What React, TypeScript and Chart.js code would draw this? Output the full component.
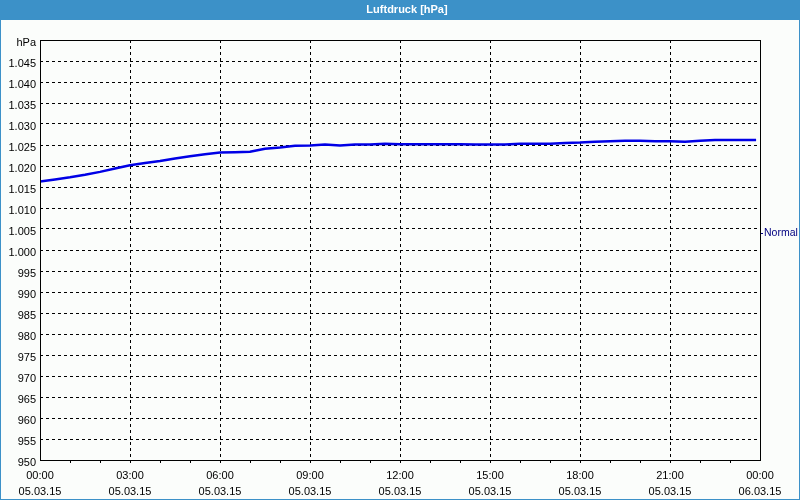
import React, { useEffect, useRef } from "react";
import { Chart, registerables } from "chart.js";

Chart.register(...registerables);

const TITLE = "Luftdruck [hPa]";
const SERIES_LABEL = "Normal";
const DATE_START = "05.03.15";
const DATE_END = "06.03.15";

// hours since 00:00 on 05.03.15
const hours = [
  0, 0.5, 1, 1.5, 2, 2.5, 3, 3.5, 4, 4.5, 5, 5.5, 6, 6.5, 7, 7.5, 8, 8.5, 9, 9.5,
  10, 10.5, 11, 11.5, 12, 12.5, 13, 13.5, 14, 14.5, 15, 15.5, 16, 16.5, 17, 17.5,
  18, 18.5, 19, 19.5, 20, 20.5, 21, 21.5, 22, 22.5, 23, 23.5, 23.87,
];
// air pressure in hPa
const pressure = [
  1016.3, 1016.8, 1017.3, 1017.9, 1018.6, 1019.4, 1020.2, 1020.7, 1021.2, 1021.8,
  1022.3, 1022.8, 1023.2, 1023.3, 1023.4, 1024.1, 1024.4, 1024.8, 1024.9, 1025.1,
  1024.9, 1025.1, 1025.1, 1025.3, 1025.2, 1025.2, 1025.2, 1025.2, 1025.2, 1025.1,
  1025.1, 1025.1, 1025.3, 1025.3, 1025.3, 1025.5, 1025.6, 1025.8, 1025.9, 1026.0,
  1026.0, 1025.9, 1025.9, 1025.8, 1026.0, 1026.2, 1026.2, 1026.2, 1026.2,
];

const Y_MIN = 950;
const Y_MAX = 1050;
const Y_STEP = 5;
const X_MIN = 0;
const X_MAX = 24;
const X_STEP = 3;

const FONT = "'Liberation Sans', Arial, sans-serif";

function fmtY(v: number): string {
  if (v === Y_MAX) return "hPa";
  if (v >= 1000) return "1." + String(Math.round(v - 1000)).padStart(3, "0");
  return String(Math.round(v));
}

function fmtX(v: number): string[] {
  const h = Math.round(v) % 24;
  const time = String(h).padStart(2, "0") + ":00";
  return [time, v >= 24 ? DATE_END : DATE_START];
}

const framePlugin = {
  id: "framePlugin",
  beforeDraw(chart: any) {
    const { ctx, width, height } = chart;
    ctx.save();
    ctx.fillStyle = "#fbfdfb";
    ctx.fillRect(0, 0, width, height);
    ctx.fillStyle = "#3c91c8";
    ctx.fillRect(0, 0, width, 20);
    ctx.strokeStyle = "#3c91c8";
    ctx.lineWidth = 1;
    ctx.strokeRect(0.5, 0.5, width - 1, height - 1);
    ctx.fillStyle = "#ffffff";
    ctx.font = "bold 11px " + FONT;
    ctx.textAlign = "center";
    ctx.textBaseline = "middle";
    ctx.fillText(TITLE, 407, 10);
    ctx.restore();
  },
  afterDraw(chart: any) {
    const { ctx, chartArea } = chart;
    const { left, right, top, bottom } = chartArea;
    ctx.save();
    ctx.strokeStyle = "#000000";
    ctx.lineWidth = 1;
    ctx.strokeRect(Math.round(left) + 0.5, Math.round(top) + 0.5, Math.round(right - left), Math.round(bottom - top));
    // minor hour ticks
    const xs = chart.scales.x;
    ctx.beginPath();
    for (let h = X_MIN + 1; h < X_MAX; h++) {
      const px = Math.round(xs.getPixelForValue(h)) + 0.5;
      ctx.moveTo(px, Math.round(bottom));
      ctx.lineTo(px, Math.round(bottom) + 3);
    }
    ctx.stroke();
    // legend label at right
    const ly = 233;
    ctx.strokeStyle = "#000080";
    ctx.beginPath();
    ctx.moveTo(Math.round(right) + 1, ly + 0.5);
    ctx.lineTo(Math.round(right) + 3, ly + 0.5);
    ctx.stroke();
    ctx.fillStyle = "#000080";
    ctx.font = "10.5px " + FONT;
    ctx.textAlign = "left";
    ctx.textBaseline = "middle";
    ctx.fillText(chart.data.datasets[0].label, Math.round(right) + 4, ly);
    ctx.restore();
  },
};

export default function App() {
  const ref = useRef<HTMLCanvasElement | null>(null);

  useEffect(() => {
    document.body.style.margin = "0";
    const canvas = ref.current;
    if (!canvas) return;
    const chart = new Chart(canvas, {
      type: "line",
      data: {
        datasets: [
          {
            label: SERIES_LABEL,
            data: hours.map((h, i) => ({ x: h, y: pressure[i] })),
            borderColor: "#0000e6",
            borderWidth: 2.5,
            pointRadius: 0,
            tension: 0,
            fill: false,
          },
        ],
      },
      options: {
        responsive: false,
        animation: false,
        events: [],
        layout: { padding: { left: 0, right: 40, top: 40, bottom: 0 } },
        plugins: {
          legend: { display: false },
          title: { display: false },
          tooltip: { enabled: false },
        },
        scales: {
          x: {
            type: "linear",
            min: X_MIN,
            max: X_MAX,
            afterFit(scale: any) {
              scale.height = 40;
            },
            afterBuildTicks(scale: any) {
              const t = [];
              for (let v = X_MIN; v <= X_MAX; v += X_STEP) t.push({ value: v });
              scale.ticks = t;
            },
            ticks: {
              autoSkip: false,
              maxRotation: 0,
              padding: 8,
              color: "#000000",
              font: { family: FONT, size: 11, lineHeight: 1.45 },
              callback: (v: any) => fmtX(Number(v)),
            },
            grid: { color: "#000000", lineWidth: 1, drawTicks: false },
            border: { display: false, dash: [3, 3] },
          },
          y: {
            type: "linear",
            min: Y_MIN,
            max: Y_MAX,
            afterFit(scale: any) {
              scale.width = 40;
            },
            afterBuildTicks(scale: any) {
              const t = [];
              for (let v = Y_MIN; v <= Y_MAX; v += Y_STEP) t.push({ value: v });
              scale.ticks = t;
            },
            ticks: {
              autoSkip: false,
              padding: 4,
              labelOffset: 3,
              color: "#000000",
              font: { family: FONT, size: 11 },
              callback: (v: any) => fmtY(Number(v)),
            },
            grid: { color: "#000000", lineWidth: 1, drawTicks: false },
            border: { display: false, dash: [3, 3] },
          },
        },
      },
      plugins: [framePlugin],
    } as any);
    return () => chart.destroy();
  }, []);

  return (
    <div style={{ width: 800, height: 500 }}>
      <canvas ref={ref} width={800} height={500} style={{ display: "block", width: 800, height: 500 }} />
    </div>
  );
}
